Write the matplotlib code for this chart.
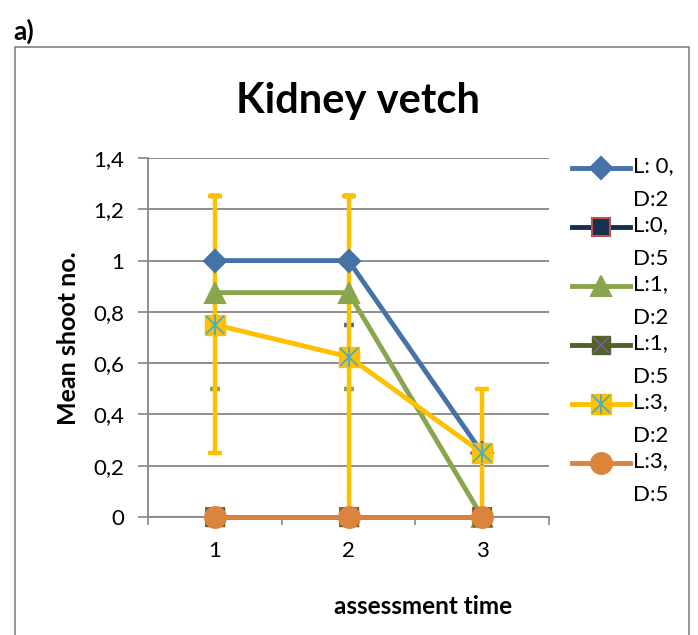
import numpy as np
import matplotlib
matplotlib.use("Agg")
import matplotlib.pyplot as plt
from matplotlib.legend_handler import HandlerLine2D, HandlerTuple
from matplotlib.lines import Line2D
from matplotlib.patches import Rectangle
from matplotlib.ticker import FixedLocator, FuncFormatter

plt.rcParams['font.family'] = ['Lato', 'DejaVu Sans']

times = [1, 2, 3]
labels = ["L: 0,\nD:2", "L:0,\nD:5", "L:1,\nD:2", "L:1,\nD:5", "L:3,\nD:2", "L:3,\nD:5"]
means = [
    [1.0, 1.0, 0.25],
    [0.0, 0.0, 0.0],
    [0.875, 0.875, 0.0],
    [0.0, 0.0, 0.0],
    [0.75, 0.625, 0.25],
    [0.0, 0.0, 0.0],
]
errs = [
    [0.25, 0.25, 0.0],
    [0.0, 0.0, 0.0],
    [0.375, 0.375, 0.0],
    [0.0, 0.0, 0.0],
    [0.5, 0.625, 0.25],
    [0.0, 0.0, 0.0],
]
colors = ["#4572A7", "#17304F", "#89A54E", "#4F6228", "#FFC000", "#DB843D"]
markers = ["D", "s", "^", "X", "*", "o"]
edges = ["#4572A7", "#C0504D", "#89A54E", "#7E5C9C", "#4BACC6", "#DB843D"]
msizes = [11, 13, 14, 13, 14, 15]

LEG_FS = 16
LINESP = 1.87
HALF_PITCH = 0.5 * LINESP * 0.723   # half the label line pitch, in font sizes


class UpHandler(HandlerLine2D):
    # put the legend line beside the first line of a two-line label
    def create_artists(self, legend, orig_handle, xdescent, ydescent,
                       width, height, fontsize, trans):
        arts = super().create_artists(legend, orig_handle, xdescent, ydescent,
                                      width, height, fontsize, trans)
        for a in arts:
            a.set_ydata(np.asarray(a.get_ydata()) + HALF_PITCH * fontsize)
        return arts


fig = plt.figure(figsize=(6.98, 6.35), dpi=100)
ax = fig.add_axes([148 / 698, 1 - 517 / 635, (549 - 148) / 698, (517 - 158) / 635])

# outer chart border
fig.patches.append(Rectangle((15 / 698, -0.02), (689 - 15) / 698, (635 - 47) / 635 + 0.02,
                             transform=fig.transFigure, fill=False,
                             edgecolor="#8C8C8C", linewidth=1.3))

# error bars first (drawn under the lines)
for m, e, c in zip(means, errs, colors):
    if max(e) == 0:
        continue
    yellow = c == "#FFC000"
    eb = ax.errorbar(times, m, yerr=e, fmt="none", ecolor=c,
                     elinewidth=3.2 if yellow else 0,
                     capsize=4.8 if yellow else 3.6, capthick=3.2, zorder=2)
    for art in eb.lines[1] + eb.lines[2]:
        art.set_clip_on(False)

handles = []
for m, c, mk, ec, ms, lab in zip(means, colors, markers, edges, msizes, labels):
    if mk in ("X", "*"):
        # filled square with a cross / star drawn over it
        h, = ax.plot(times, m, color=c, lw=3.5, marker="s", markersize=ms,
                     markerfacecolor=c, markeredgecolor=c, zorder=3, clip_on=False)
        parts = [h]
        if mk == "X":
            x1, = ax.plot(times, m, ls="none", marker="x", markersize=ms - 2,
                          markeredgecolor=ec, markeredgewidth=1.2, zorder=3, clip_on=False)
            parts.append(x1)
        else:
            x1, = ax.plot(times, m, ls="none", marker="x", markersize=ms - 1,
                          markeredgecolor=ec, markeredgewidth=1.3, zorder=3, clip_on=False)
            x2, = ax.plot(times, m, ls="none", marker="|", markersize=ms,
                          markeredgecolor=ec, markeredgewidth=1.3, zorder=3, clip_on=False)
            parts += [x1, x2]
        handles.append(tuple(parts))
    else:
        h, = ax.plot(times, m, color=c, lw=3.5, marker=mk, markersize=ms,
                     markerfacecolor=c, markeredgecolor=ec, markeredgewidth=1.5,
                     zorder=3, clip_on=False)
        handles.append(h)

ax.set_xlim(0.5, 3.5)
ax.set_ylim(0, 1.4)
ax.set_yticks(np.arange(0, 1.41, 0.2))
ax.yaxis.set_major_formatter(FuncFormatter(lambda v, p: ("%g" % round(v, 1)).replace(".", ",")))
ax.set_xticks(times)
ax.set_xticklabels([str(t) for t in times])
ax.xaxis.set_minor_locator(FixedLocator([0.5, 1.5, 2.5, 3.5]))
ax.tick_params(axis="x", which="major", length=0, labelsize=16, pad=17)
ax.tick_params(axis="x", which="minor", length=6, width=1.2, color="#868686")
ax.tick_params(axis="y", length=7, width=1.2, color="#868686", labelsize=16, pad=10)
ax.grid(axis="y", color="#868686", lw=1.3)
ax.set_axisbelow(True)
for s in ["top", "right"]:
    ax.spines[s].set_visible(False)
for s in ["left", "bottom"]:
    ax.spines[s].set_color("#868686")
    ax.spines[s].set_linewidth(1.3)

fig.text(0.5 * (236 + 479) / 698, 1 - 101 / 635, "Kidney vetch", fontsize=30,
         fontweight="bold", ha="center", va="center")
fig.text(68 / 698, 1 - 338 / 635, "Mean shoot no.", fontsize=18, fontweight="bold",
         rotation=90, ha="center", va="center")
fig.text(423 / 698, 1 - 606 / 635, "assessment time", fontsize=17.5, fontweight="bold",
         ha="center", va="center")
fig.text(13 / 698, 1 - 31 / 635, "a)", fontsize=19, fontweight="bold",
         ha="left", va="center")

leg = fig.legend(handles, labels, loc="upper left", bbox_to_anchor=(552 / 698, 1 - 136 / 635),
                 frameon=False, fontsize=LEG_FS, handlelength=2.6, handletextpad=0.15,
                 labelspacing=0.23,
                 handler_map={Line2D: UpHandler(), tuple: HandlerTuple(ndivide=1, pad=0)})
for t in leg.get_texts():
    t.set_linespacing(LINESP)

fig.savefig("out.png", dpi=100)
